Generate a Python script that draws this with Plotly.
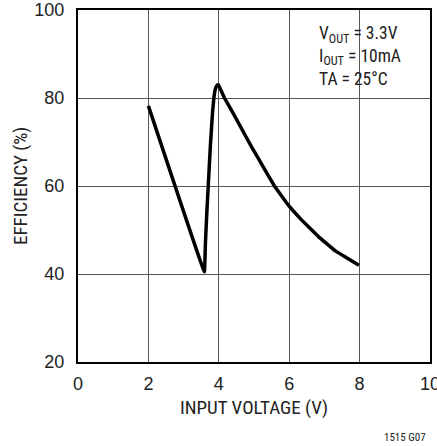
import plotly.graph_objects as go

# Efficiency vs input voltage
vin = [2.00, 3.59, 3.62, 3.66, 3.70, 3.76, 3.82, 3.86, 3.90, 3.95, 3.99,
       4.16, 4.41, 4.67, 4.93, 5.20, 5.58, 5.97, 6.35, 6.83, 7.30, 7.77, 7.98]
eff = [78.2, 40.5, 47.0, 54.0, 60.0, 69.0, 76.5, 80.0, 82.0, 82.9, 83.0,
       80.0, 76.5, 72.7, 68.9, 65.2, 60.0, 55.7, 52.3, 48.5, 45.3, 43.0, 42.0]

x_ticks = [0, 2, 4, 6, 8, 10]
y_ticks = [20, 40, 60, 80, 100]
cond_lines = ["V<sub>OUT</sub> = 3.3V", "I<sub>OUT</sub> = 10mA", "TA = 25°C"]

NARROW = "Liberation Sans Narrow, Arial Narrow, Roboto Condensed, sans-serif"
REG = "Liberation Sans, Arial, sans-serif"

fig = go.Figure()
fig.add_trace(go.Scatter(x=vin, y=eff, mode="lines",
                         line=dict(color="black", width=3.5, shape="spline", smoothing=0.15),
                         hoverinfo="skip", showlegend=False))

fig.update_xaxes(range=[0, 10], tickvals=x_ticks, ticktext=[str(v) for v in x_ticks],
                 showgrid=True, gridcolor="#555555", gridwidth=1,
                 showline=True, linecolor="black", linewidth=2, mirror=True,
                 ticks="", zeroline=False, ticklabelstandoff=4, ticklabeloverflow="allow",
                 automargin=False,
                 tickfont=dict(family=REG, size=18, color="#222"))
fig.update_yaxes(range=[20, 100], tickvals=y_ticks, ticktext=[str(v) for v in y_ticks],
                 showgrid=True, gridcolor="#555555", gridwidth=1,
                 showline=True, linecolor="black", linewidth=2, mirror=True,
                 ticks="", zeroline=False, ticklabelstandoff=8, ticklabeloverflow="allow",
                 automargin=False,
                 tickfont=dict(family=REG, size=18, color="#222"))

ann = [dict(x=6.78, y=97.6, xref="x", yref="y", text="<br>".join(cond_lines), showarrow=False,
            xanchor="left", yanchor="top", align="left",
            font=dict(family=NARROW, size=17.5, color="#222"))]
ann.append(dict(x=0.5, y=-0.128, xref="paper", yref="paper", text="INPUT VOLTAGE (V)",
                showarrow=False, xanchor="center", yanchor="middle",
                font=dict(family=NARROW, size=19, color="#222")))
ann.append(dict(x=-58 / 352, y=0.5, xref="paper", yref="paper", text="EFFICIENCY (%)",
                showarrow=False, xanchor="center", yanchor="middle", textangle=-90,
                font=dict(family=NARROW, size=19, color="#222")))
ann.append(dict(x=(428 - 78) / 352, y=(362 - 437) / 352, xref="paper", yref="paper", text="1515 G07",
                showarrow=False, xanchor="right", yanchor="middle",
                font=dict(family=NARROW, size=11, color="#222")))

fig.update_layout(width=437, height=446, margin=dict(l=78, r=7, t=10, b=84),
                  paper_bgcolor="white", plot_bgcolor="white", annotations=ann)

fig.write_html("out.html")
